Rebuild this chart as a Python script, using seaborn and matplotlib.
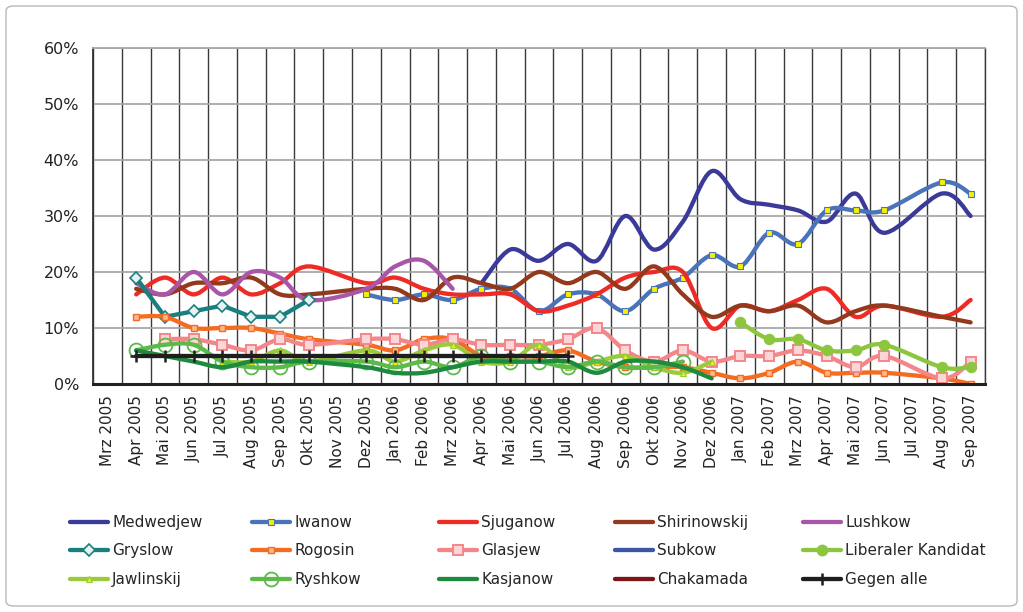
import numpy as np
import pandas as pd
import matplotlib
matplotlib.use("Agg")
import matplotlib.pyplot as plt
import seaborn as sns
from matplotlib.path import Path
from matplotlib.patches import PathPatch, FancyBboxPatch
from matplotlib.lines import Line2D

N = np.nan
months = ["Mrz 2005", "Apr 2005", "Mai 2005", "Jun 2005", "Jul 2005", "Aug 2005",
          "Sep 2005", "Okt 2005", "Nov 2005", "Dez 2005", "Jan 2006", "Feb 2006",
          "Mrz 2006", "Apr 2006", "Mai 2006", "Jun 2006", "Jul 2006", "Aug 2006",
          "Sep 2006", "Okt 2006", "Nov 2006", "Dez 2006", "Jan 2007", "Feb 2007",
          "Mrz 2007", "Apr 2007", "Mai 2007", "Jun 2007", "Jul 2007", "Aug 2007",
          "Sep 2007"]

medwedjew = [N]*13 + [18, 24, 22, 25, 22, 30, 24, 29, 38, 33, 32, 31, 29, 34, 27, N, 34, 30]
iwanow = [N]*9 + [16, 15, 16, 15, 17, 17, 13, 16, 16, 13, 17, 19, 23, 21, 27, 25, 31, 31, 31, N, 36, 34]
sjuganow = [N, 16, 19, 16, 19, 16, 18, 21, N, 18, 19, 17, 16, 16, 16, 13, 14, 16, 19, 20, 20,
            10, 14, 13, 15, 17, 12, 14, N, 12, 15]
shirinowskij = [N, 17, 16, 18, 18, 19, 16, 16, N, 17, 17, 15, 19, 18, 17, 20, 18, 20, 17, 21, 16,
                12, 14, 13, 14, 11, 13, 14, N, 12, 11]
lushkow = [N, 18, 16, 20, 16, 20, 19, 15, N, 17, 21, 22, 17] + [N]*18
gryslow = [N, 19, 12, 13, 14, 12, 12, 15] + [N]*23
rogosin = [N, 12, 12, 10, 10, 10, 9, 8, N, 7, 6, 8, 8, 5, 5, 5, 6, 4, 3, 3, 3, 2, 1, 2, 4, 2, 2, 2, N, 1, 0]
glasjew = [N, N, 8, 8, 7, 6, 8, 7, N, 8, 8, 7, 8, 7, 7, 7, 8, 10, 6, 4, 6, 4, 5, 5, 6, 5, 3, 5, N, 1, 4]
subkow = [N]*31
liberaler = [N]*22 + [11, 8, 8, 6, 6, 7, N, 3, 3]
jawlinskij = [N]*4 + [4, 4, 6, 4, N, 6, 4, 6, 7, 4, 4, 7, 3, 4, 5, 3, 2, 4] + [N]*9
ryshkow = [N, 6, 7, 7, 4, 3, 3, 4, N, 4, 3, 4, 3, 5, 4, 4, 3, 4, 3, 3, 4] + [N]*10
kasjanow = [N, 6, 5, 4, 3, 4, 4, 4, N, 3, 2, 2, 3, 4, 4, 4, 4, 2, 4, 4, 3, 1] + [N]*9
chakamada = [N]*31
gegen_alle = [N, 5, 5, 5, 5, 5, 5, 5, N, 5, 5, 5, 5, 5, 5, 5, 5] + [N]*14

series = [
    ("Medwedjew", medwedjew, "#3b3a98", True, {}),
    ("Iwanow", iwanow, "#4a73b9", True, dict(marker="s", markersize=4, markerfacecolor="#f4f000",
                                             markeredgecolor="#4a73b9", markeredgewidth=0.8)),
    ("Sjuganow", sjuganow, "#ee2b25", True, {}),
    ("Shirinowskij", shirinowskij, "#93391d", True, {}),
    ("Lushkow", lushkow, "#a857a8", True, {}),
    ("Gryslow", gryslow, "#19807f", False, dict(marker="D", markersize=6.5, markerfacecolor="#e6f2f2",
                                                markeredgecolor="#19807f", markeredgewidth=1.2)),
    ("Rogosin", rogosin, "#f36c21", True, dict(marker="s", markersize=4, markerfacecolor="#fbb88f",
                                               markeredgecolor="#f36c21", markeredgewidth=1.0)),
    ("Glasjew", glasjew, "#f4868a", True, dict(marker="s", markersize=7.5, markerfacecolor="#fcd6d7",
                                               markeredgecolor="#f4868a", markeredgewidth=1.4)),
    ("Subkow", subkow, "#3c55a5", True, {}),
    ("Liberaler Kandidat", liberaler, "#8cc63f", True, dict(marker="o", markersize=7.5,
                                                            markerfacecolor="#8cc63f",
                                                            markeredgecolor="#8cc63f")),
    ("Jawlinskij", jawlinskij, "#9acb3c", True, dict(marker="^", markersize=5, markerfacecolor="#eeee10",
                                                     markeredgecolor="#9acb3c", markeredgewidth=0.8)),
    ("Ryshkow", ryshkow, "#5db94a", True, dict(marker="o", markersize=10, markerfacecolor="none",
                                               markeredgecolor="#5db94a", markeredgewidth=1.3)),
    ("Kasjanow", kasjanow, "#1d8a3e", True, {}),
    ("Chakamada", chakamada, "#7b1517", True, {}),
    ("Gegen alle", gegen_alle, "#1e1e1e", True, dict(marker="+", markersize=8, markeredgecolor="#1e1e1e",
                                                     markeredgewidth=1.8)),
]

sns.set_style("white")
plt.rcParams["font.family"] = ["DejaVu Sans"]

fig = plt.figure(figsize=(10.23, 6.12), dpi=100)
ax = fig.add_axes([93 / 1023, 1 - 384 / 612, (985 - 93) / 1023, (384 - 48) / 612])

LW = 3.1


def smooth_path(xs, ys):
    pts = np.array([(x, y) for x, y in zip(xs, ys) if not np.isnan(y)], dtype=float)
    n = len(pts)
    if n < 2:
        return None
    verts = [tuple(pts[0])]
    codes = [Path.MOVETO]
    for i in range(n - 1):
        p0 = pts[i - 1] if i > 0 else pts[i]
        p1 = pts[i]
        p2 = pts[i + 1]
        p3 = pts[i + 2] if i + 2 < n else pts[i + 1]
        c1 = p1 + (p2 - p0) / 6.0
        c2 = p2 - (p3 - p1) / 6.0
        verts += [tuple(c1), tuple(c2), tuple(p2)]
        codes += [Path.CURVE4] * 3
    return Path(verts, codes)


idx = np.arange(len(months))
handles = []
for k, (name, vals, color, smooth, mk) in enumerate(series):
    z = 3 + k * 0.1
    df = pd.DataFrame({"idx": idx, "val": np.array(vals, dtype=float)}).dropna()
    if smooth:
        p = smooth_path(df["idx"].values, df["val"].values)
        if p is not None:
            ax.add_patch(PathPatch(p, fill=False, edgecolor=color, lw=LW, zorder=z,
                                   capstyle="round", joinstyle="round"))
        if mk and len(df):
            sns.lineplot(data=df, x="idx", y="val", ax=ax, color=color, linewidth=0,
                         linestyle="none", zorder=z + 0.05, **mk)
    else:
        if len(df):
            sns.lineplot(data=df, x="idx", y="val", ax=ax, color=color, linewidth=LW,
                         zorder=z, **mk)
    handles.append(Line2D([], [], color=color, lw=LW, **mk))

ax.set_xlim(-0.5, len(months) - 0.5)
ax.set_ylim(0, 60)
ax.set_xlabel("")
ax.set_ylabel("")
ax.set_xticks(idx)
ax.set_xticklabels(months, rotation=90, fontsize=11, color="#222222")
ax.set_xticks(np.arange(-0.5, len(months), 1.0), minor=True)
ax.set_yticks(np.arange(0, 61, 10))
ax.set_yticklabels([f"{v}%" for v in range(0, 61, 10)], fontsize=11.5, color="#222222")
ax.tick_params(axis="x", which="major", length=0, pad=8)
ax.tick_params(axis="x", which="minor", length=5, width=1, color="#333333", direction="out")
ax.tick_params(axis="y", which="major", length=4, width=1, color="#333333", direction="out", pad=6)
ax.grid(False)
ax.grid(True, axis="x", which="minor", color="#3a3a3a", lw=1.0, zorder=1)
ax.grid(True, axis="y", which="major", color="#a8a8a8", lw=1.3, zorder=1)
ax.set_axisbelow(True)
ax.spines["top"].set_color("#a8a8a8")
ax.spines["top"].set_linewidth(1.3)
ax.spines["right"].set_color("#3a3a3a")
ax.spines["right"].set_linewidth(1.0)
ax.spines["left"].set_color("#333333")
ax.spines["left"].set_linewidth(1.3)
ax.spines["bottom"].set_color("#222222")
ax.spines["bottom"].set_linewidth(2.2)
ax.spines["bottom"].set_zorder(10)

# legend: 5 columns, 3 rows (row-wise order as in the reference)
col_x = [70, 252, 439, 615, 803]
for c in range(5):
    hs = [handles[r * 5 + c] for r in range(3)]
    ls = [series[r * 5 + c][0] for r in range(3)]
    fig.legend(hs, ls, loc="upper left", bbox_to_anchor=(col_x[c] / 1023, 1 - 515 / 612),
               bbox_transform=fig.transFigure, frameon=False, fontsize=11,
               handlelength=2.5, handletextpad=0.25, labelspacing=0.88, borderpad=0,
               borderaxespad=0, numpoints=1)

fig.patches.append(FancyBboxPatch((6 / 1023, 6 / 612), 1 - 12 / 1023, 1 - 12 / 612,
                                  boxstyle="round,pad=0,rounding_size=0.008",
                                  transform=fig.transFigure, fill=False,
                                  edgecolor="#b8b8b8", lw=1.0, figure=fig))

fig.savefig("out.png", dpi=100)
